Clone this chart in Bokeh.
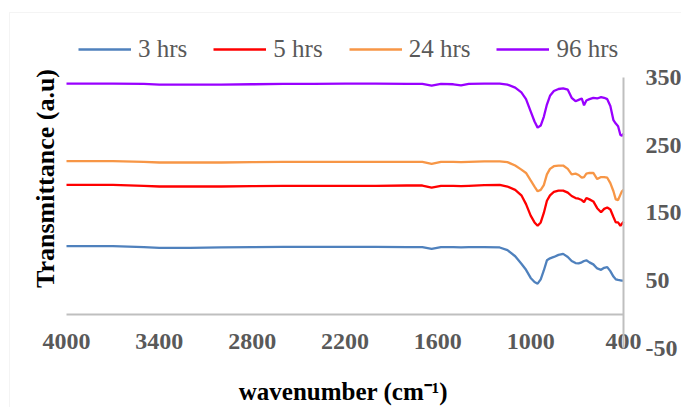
import math
from bokeh.plotting import figure
from bokeh.models import (Range1d, LinearAxis, FixedTicker, Legend, LegendItem,
                          Label, BoxAnnotation)
from bokeh.embed import file_html
from bokeh.resources import INLINE

# ---------------- data ----------------
wavenumber = [4000, 3700, 3500, 3400, 3200, 3000, 2800, 2600, 2400, 2200, 2000, 1800,
              1700, 1640, 1580, 1500, 1450, 1400, 1300, 1200, 1150, 1100, 1060, 1030,
              1000, 975, 955, 935, 915, 895, 875, 850, 820, 790, 760, 735, 710, 690,
              670, 655, 640, 620, 595, 570, 545, 525, 505, 485, 465, 450, 435, 420,
              410, 400]

hrs3 = [101, 101, 99.5, 98.5, 98.5, 99, 99.5, 100, 100, 100, 100, 99.5,
        99.5, 97, 99.5, 99.5, 99, 99.5, 99.5, 99, 95, 86, 75, 66,
        54, 48, 45.5, 52, 65, 80, 83, 85, 88, 89.5, 85, 79, 76, 75.5,
        77, 79, 80, 77, 74, 68, 66, 69, 70, 64, 56, 52, 51, 50.5,
        50, 50]

hrs5 = [191.5, 191.5, 190, 189, 189, 189, 189.5, 190, 190, 190, 190, 190.5,
        190.5, 187.5, 190, 190, 189.5, 190, 191, 191.5, 189, 184, 176, 163,
        146, 136, 131, 136, 150, 168, 176, 181, 183, 183, 180, 175, 172, 171,
        169, 166, 172, 170, 167, 157, 151, 156, 158, 155, 144, 136, 136, 131,
        134, 137]

hrs24 = [226.5, 226.5, 225.5, 224.5, 224.5, 224.5, 225, 225.5, 225.5, 225.5, 225.5, 225.5,
         225.5, 222.5, 225.5, 225.5, 225, 225.5, 226, 226, 225, 220, 214, 209,
         198, 189, 182, 184, 191, 207, 215, 219, 220, 220, 215, 207, 208, 206,
         202, 203, 208, 209, 209, 200, 203, 203, 202, 194, 182, 170, 169, 177,
         182, 184]

hrs96 = [341, 341, 340.5, 339.5, 339.5, 339.5, 340, 340.5, 340.5, 341, 341, 340.5,
         340.5, 338, 340.5, 340, 338.5, 340.5, 341, 341, 339.5, 335, 328, 318,
         300, 285, 276, 279, 292, 310, 323, 330, 333, 334, 332, 320, 315, 317,
         319, 309, 316, 318, 320, 319, 321, 320, 318, 308, 287, 282, 278, 265,
         264, 267]

series_labels = ["3 hrs", "5 hrs", "24 hrs", "96 hrs"]
series_colors = ["#4F81BD", "#FF0000", "#F79646", "#9900FF"]

x_ticks = [4000, 3400, 2800, 2200, 1600, 1000, 400]
y_ticks = [-50, 50, 150, 250, 350]

FONT = "Liberation Serif"
TICK_COLOR = "#595959"
AXIS_GRAY = "#BFBFBF"

W, H = 681, 407
# The frame fills the whole canvas; the plot area (4000..400, -50..350) sits inside it.
PA_LEFT, PA_RIGHT = 66, 623      # canvas px of x=4000 and x=400
PA_TOP, PA_ZERO = 77, 314        # canvas px of y=350 and y=0
kx = (PA_RIGHT - PA_LEFT) / (4000 - 400)
ky = (PA_ZERO - PA_TOP) / 350.0
x_start = 4000 + PA_LEFT / kx
x_end = 400 - (W - PA_RIGHT) / kx
y_end = PA_ZERO / ky
y_start = -(H - PA_ZERO) / ky

p = figure(width=W, height=H,
           x_range=Range1d(x_start, x_end), y_range=Range1d(y_start, y_end),
           output_backend="svg", toolbar_location=None,
           x_axis_type=None, y_axis_type=None,
           min_border_left=0, min_border_right=0, min_border_top=0, min_border_bottom=0)
p.outline_line_color = None
p.background_fill_color = "white"
p.border_fill_color = "white"

renderers = []
for vals, col in zip([hrs3, hrs5, hrs24, hrs96], series_colors):
    r = p.line(wavenumber, vals, line_color=col, line_width=2.3)
    renderers.append(r)

# horizontal axis crossing at 0, labels below
xa = LinearAxis(fixed_location=0, bounds=(400, 4000), ticker=FixedTicker(ticks=x_ticks))
xa.axis_line_color = AXIS_GRAY
xa.axis_line_width = 2
xa.major_tick_line_color = None
xa.minor_tick_line_color = None
xa.major_tick_out = 0
xa.major_tick_in = 0
xa.minor_tick_out = 0
xa.major_label_standoff = 19
xa.major_label_text_font = FONT
xa.major_label_text_font_style = "bold"
xa.major_label_text_font_size = "24px"
xa.major_label_text_color = TICK_COLOR
p.add_layout(xa, "below")

# vertical axis at x = 400 (reversed axis puts it on the right)
ya = LinearAxis(fixed_location=400, bounds=(-50, 350), ticker=FixedTicker(ticks=y_ticks),
                major_label_overrides={t: str(t) for t in y_ticks})
ya.axis_line_color = AXIS_GRAY
ya.axis_line_width = 2
ya.major_tick_line_color = None
ya.minor_tick_line_color = None
ya.major_tick_out = 0
ya.major_tick_in = 0
ya.minor_tick_out = 0
ya.major_label_standoff = 22
ya.major_label_text_font = FONT
ya.major_label_text_font_style = "bold"
ya.major_label_text_font_size = "24px"
ya.major_label_text_color = TICK_COLOR
p.add_layout(ya, "right")

legend = Legend(items=[LegendItem(label=l, renderers=[r]) for l, r in zip(series_labels, renderers)],
                orientation="horizontal", location=(78, 344),
                glyph_width=53, glyph_height=20, label_standoff=7, spacing=26,
                padding=0, margin=0, border_line_color=None, background_fill_alpha=0,
                label_text_font=FONT, label_text_font_size="25px", label_text_color=TICK_COLOR)
p.add_layout(legend)

p.add_layout(Label(x=45, y=229, x_units="screen", y_units="screen", text="Transmittance (a.u)",
                   angle=math.pi / 2, text_align="center", text_baseline="middle",
                   text_font=FONT, text_font_style="bold", text_font_size="26px",
                   text_color="black"))

p.add_layout(Label(x=346, y=16, x_units="screen", y_units="screen",
                   text="wavenumber  (cm\u207b\u00b9)",
                   text_align="center", text_baseline="middle",
                   text_font=FONT, text_font_style="bold", text_font_size="25px",
                   text_color="black"))

# light chart-area border
p.add_layout(BoxAnnotation(left=9, right=W + 50, bottom=-50, top=H - 12,
                           left_units="screen", right_units="screen",
                           bottom_units="screen", top_units="screen",
                           fill_alpha=0, line_color="#D9D9D9", line_width=1))

open("out.html", "w").write(file_html(p, INLINE))
